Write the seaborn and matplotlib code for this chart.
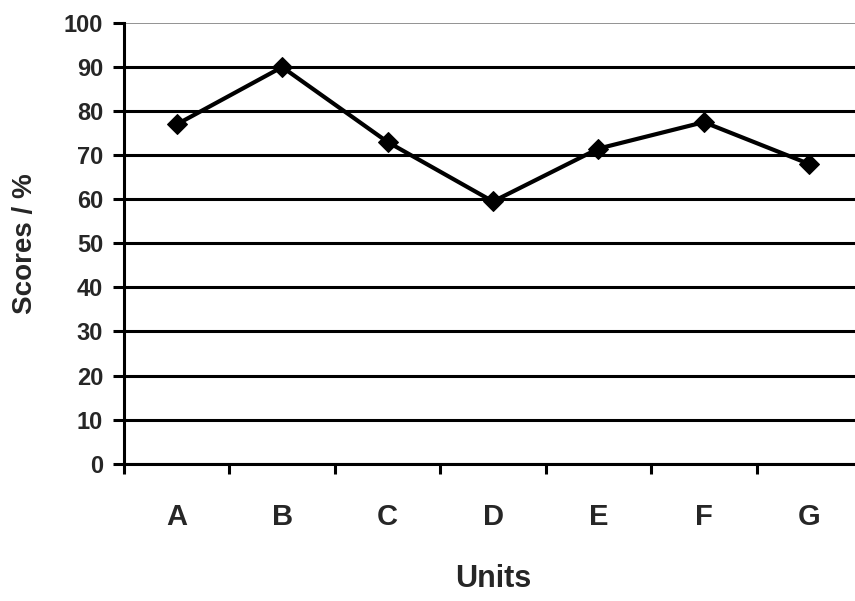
import numpy as np
import matplotlib
matplotlib.use("Agg")
import matplotlib.pyplot as plt
import seaborn as sns

# Data
units = ['A', 'B', 'C', 'D', 'E', 'F', 'G']
scores = [77, 90, 73, 59.5, 71.5, 77.5, 68]
y_ticks = [0, 10, 20, 30, 40, 50, 60, 70, 80, 90, 100]

sns.set_style("white")
plt.rcParams['font.family'] = ['Liberation Sans', 'DejaVu Sans']

fig = plt.figure(figsize=(8.55, 6.01), dpi=100)
ax = fig.add_axes([124 / 855, 137.3 / 601, 738 / 855, 440.7 / 601])

sns.lineplot(x=units, y=scores, marker='D', color='black', linewidth=3,
             markersize=10, markeredgecolor='black', sort=False, ax=ax)

ax.set_xlim(-0.5, len(units) - 0.5)
ax.set_ylim(0, 100)

# y axis
ax.set_yticks(y_ticks)
ax.set_yticklabels([str(v) for v in y_ticks], fontsize=17, fontweight='bold')
ax.tick_params(axis='y', direction='out', length=8, width=2.2, pad=7,
               color='black', left=True)
ax.grid(axis='y', color='black', linewidth=2.2)
ax.grid(axis='x', visible=False)
ax.get_ygridlines()[-1].set_color('#8a8a8a')
ax.get_ygridlines()[-1].set_linewidth(1.3)

# x axis: ticks at category boundaries, labels at centres
ax.set_xticks(np.arange(-0.5, len(units)), labels=[''] * (len(units) + 1))
ax.set_xticks(np.arange(len(units)), labels=units, minor=True)
ax.tick_params(axis='x', which='major', direction='out', length=7, width=2.2,
               color='black', bottom=True)
ax.tick_params(axis='x', which='minor', length=0, pad=28, labelsize=21)
for lbl in ax.get_xticklabels(minor=True):
    lbl.set_fontweight('bold')

ax.set_xlabel('Units', fontsize=22, fontweight='bold')
ax.set_ylabel('Scores / %', fontsize=20, fontweight='bold')
ax.xaxis.set_label_coords(0.5, -0.228)
ax.yaxis.set_label_coords(-0.1165, 0.5)

for side in ['left', 'bottom']:
    ax.spines[side].set_color('black')
    ax.spines[side].set_linewidth(2.2)
ax.spines['right'].set_visible(False)
ax.spines['top'].set_visible(False)

fig.savefig('out.png', dpi=100)
